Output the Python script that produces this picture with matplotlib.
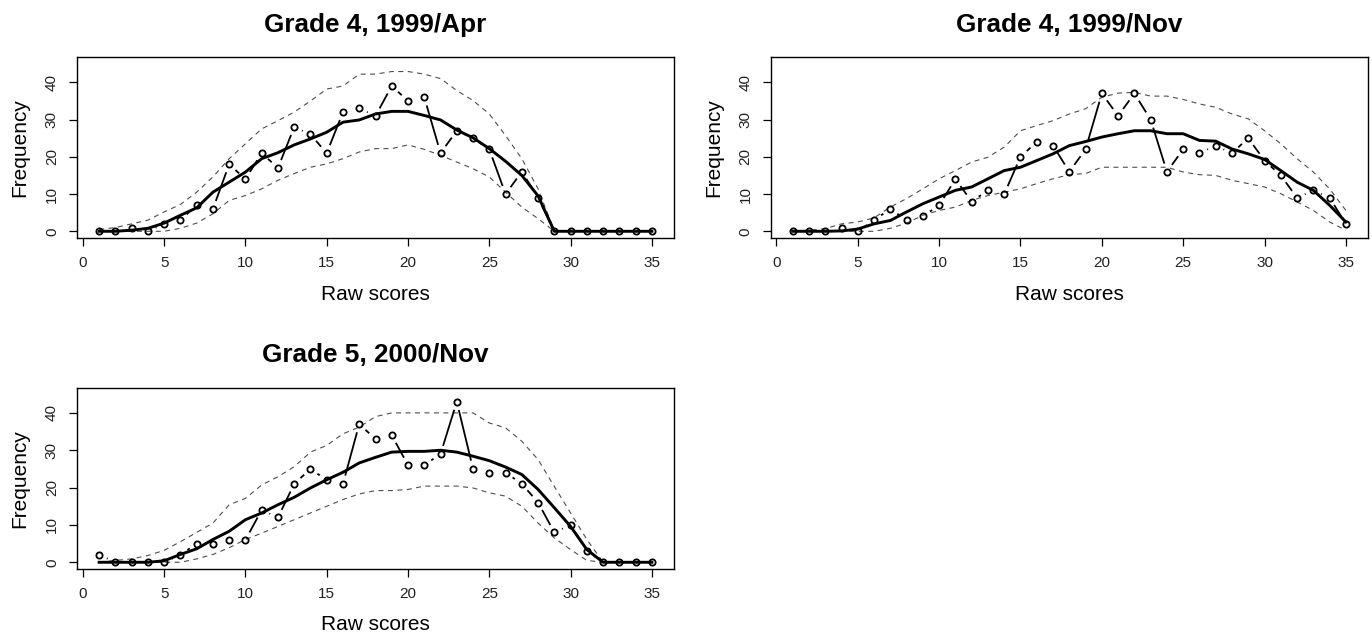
import numpy as np
import matplotlib
matplotlib.use('Agg')
import matplotlib.pyplot as plt
from matplotlib.collections import LineCollection

plt.rcParams['font.family'] = ['Liberation Sans', 'DejaVu Sans']

# Datos
raw_scores = list(range(1, 36))
titles = ['Grade 4, 1999/Apr', 'Grade 4, 1999/Nov', 'Grade 5, 2000/Nov']

apr_obs = [0, 0, 1, 0, 2, 3, 7, 6, 18, 14, 21, 17, 28, 26, 21, 32, 33, 31, 39, 35,
           36, 21, 27, 25, 22, 10, 16, 9, 0, 0, 0, 0, 0, 0, 0]
apr_exp = [0, 0, 0.3, 0.8, 2.2, 4.3, 6.3, 10.5, 13.2, 15.9, 19.5, 21.1, 23.2, 24.8, 26.6,
           29.3, 29.9, 31.5, 32.2, 32.2, 31.1, 29.9, 27.2, 25.1, 22.2, 18.8, 15, 9.5,
           0, 0, 0, 0, 0, 0, 0]
apr_hi = [0.5, 1, 2, 3, 5.2, 7.2, 10.5, 14.6, 19.5, 23.5, 27.5, 29.7, 32, 35, 38.2,
          39, 42.2, 42.2, 42.9, 42.9, 42.2, 41, 37.8, 35.1, 31.5, 25.7, 19.5, 11.4,
          0, 0, 0, 0, 0, 0, 0]
apr_lo = [0, 0, 0, 0, 0, 0.8, 2.2, 4.7, 8.3, 9.6, 11.4, 13.7, 15.5, 17.2, 18.1, 19.5,
          21.3, 22.2, 22.2, 23.2, 22, 20.4, 18.6, 16.8, 14.6, 10.5, 6.5, 3.4,
          0, 0, 0, 0, 0, 0, 0]

nov_obs = [0, 0, 0, 1, 0, 3, 6, 3, 4, 7, 14, 8, 11, 10, 20, 24, 23, 16, 22, 37,
           31, 37, 30, 16, 22, 21, 23, 21, 25, 19, 15, 9, 11, 9, 2]
nov_exp = [0, 0, 0, 0.1, 0.6, 2, 2.9, 5.2, 7.4, 9.2, 11, 11.9, 14.1, 16.3, 17.2, 19,
           20.8, 23, 24.1, 25.3, 26.2, 27, 27, 26.2, 26.2, 24.4, 24.2, 22.1, 20.8,
           19.3, 16.3, 13.2, 11, 7, 2.5]
nov_hi = [0, 0.3, 0.7, 2, 2.5, 3.6, 6.5, 8.8, 11.4, 14.1, 16.3, 18.6, 19.9, 22.6, 27,
          28.4, 29.7, 31.5, 32.9, 36, 37.1, 37.3, 36.3, 36.3, 35.4, 34.2, 33.3, 31.5,
          30.2, 27, 23.5, 19.5, 15.9, 11.4, 5.6]
nov_lo = [0, 0, 0, 0, 0, 0, 0.8, 2.2, 4.3, 5.6, 6.5, 8.3, 9.6, 10.5, 11.4, 12.8, 14.1,
          15.2, 15.5, 17.2, 17.2, 17.2, 17.2, 17.2, 15.9, 15.2, 15, 13.7, 12.8, 11.9,
          10.1, 7.9, 5.6, 2.5, 0.3]

g5_obs = [2, 0, 0, 0, 0, 2, 5, 5, 6, 6, 14, 12, 21, 25, 22, 21, 37, 33, 34, 26,
          26, 29, 43, 25, 24, 24, 21, 16, 8, 10, 3, 0, 0, 0, 0]
g5_exp = [0, 0, 0, 0, 0.4, 2.1, 3.6, 6.1, 8.3, 11.4, 13.2, 15.4, 17.4, 19.9, 22.1,
          24.1, 26.6, 28.1, 29.5, 29.7, 29.7, 30, 29.5, 28.4, 27.2, 25.5, 23.5, 19.5,
          14.6, 9.6, 3.4, 0, 0, 0, 0]
g5_hi = [0, 0.5, 0.9, 1.8, 3.2, 5.5, 8, 10.5, 15.4, 17.1, 20.7, 22.9, 25.6, 29.5, 31.3,
         34.4, 36.2, 39, 40, 40, 40, 40, 40, 40, 37.3, 36, 32.4, 27.5, 20.3, 13.2,
         6.1, 0, 0, 0, 0]
g5_lo = [0, 0, 0, 0, 0, 0, 0.9, 2.1, 3.9, 6.1, 7.8, 9.6, 11.4, 13.2, 15, 16.8, 18.3,
         19.2, 19.2, 19.5, 20.4, 20.4, 20.4, 19.9, 18.6, 17.7, 15, 10.5, 6.5, 3.4,
         0.5, 0, 0, 0, 0]

paneles = [
    (titles[0], apr_obs, apr_exp, apr_hi, apr_lo, [77, 57, 597, 181]),
    (titles[1], nov_obs, nov_exp, nov_hi, nov_lo, [770.6, 57, 597.4, 181]),
    (titles[2], g5_obs, g5_exp, g5_hi, g5_lo, [77, 387.5, 597, 181.5]),
]

W, H = 1372, 632
fig = plt.figure(figsize=(W / 100, H / 100), dpi=100)
fuente_ticks = ['Liberation Sans Narrow', 'Liberation Sans', 'DejaVu Sans']


def lineas_con_huecos(ax, x, y, gap=8.5):
    # estilo type="b" de R: segmentos cortados alrededor de cada punto
    pts = ax.transData.transform(np.column_stack([x, y]))
    inv = ax.transData.inverted()
    segs = []
    for p, q in zip(pts[:-1], pts[1:]):
        d = q - p
        L = np.hypot(d[0], d[1])
        if L <= 2 * gap:
            continue
        u = d / L
        segs.append(inv.transform(np.array([p + u * gap, q - u * gap])))
    ax.add_collection(LineCollection(segs, colors='black', linewidths=1.3))


for titulo, obs, exp, hi, lo, (l, t, w, h) in paneles:
    ax = fig.add_axes([l / W, (H - t - h) / H, w / W, h / H])
    ax.set_xlim(-0.36, 36.36)
    ax.set_ylim(-1.8, 46.8)

    ax.plot(raw_scores, hi, color='#4d4d4d', lw=0.8, linestyle=(0, (4.5, 4)))
    ax.plot(raw_scores, lo, color='#4d4d4d', lw=0.8, linestyle=(0, (4.5, 4)))
    ax.plot(raw_scores, exp, color='black', lw=2.1, solid_joinstyle='round')
    lineas_con_huecos(ax, raw_scores, obs)
    ax.plot(raw_scores, obs, linestyle='none', marker='o', markersize=4.5,
            markerfacecolor='none', markeredgecolor='black', markeredgewidth=1.3)

    ax.set_xticks(range(0, 36, 5))
    ax.set_yticks(range(0, 41, 10))
    ax.tick_params(direction='out', length=6, width=0.9, labelsize=11,
                   pad=7, colors='black', labelcolor='#222222')
    for lab in ax.get_xticklabels() + ax.get_yticklabels():
        lab.set_fontfamily(fuente_ticks)
    for lab in ax.get_yticklabels():
        lab.set_rotation(90)
        lab.set_va('center')
    for s in ax.spines.values():
        s.set_linewidth(1.0)

    ax.set_xlabel('Raw scores', fontsize=15, va='center')
    ax.xaxis.set_label_coords(0.5, -56 / h)
    ax.set_ylabel('Frequency', fontsize=15, va='center')
    ax.yaxis.set_label_coords(-(l - 20) / w if l < 100 else -(l - 714) / w, 0.5)
    ax.set_title(titulo, fontsize=18.8, fontweight='bold', y=1 + 32 / h,
                 va='center', pad=0)

fig.savefig('out.png', dpi=100)
